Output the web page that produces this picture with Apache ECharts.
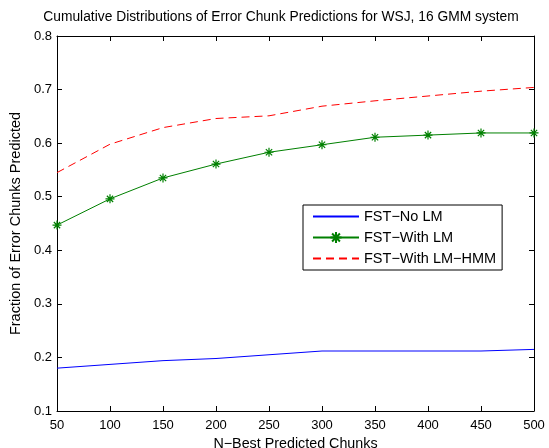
<!DOCTYPE html>
<html>
<head>
	<meta charset="UTF-8">
	<title></title>
	<style>
		body { margin: 0; background: #fff; }
		#chart { width: 549px; height: 448px; }
	</style>
	<script src="https://cdn.jsdelivr.net/npm/echarts@6/dist/echarts.min.js"></script>
</head>
<body>
	<div id="chart"></div>
	<script>
		var nBest = [50, 100, 150, 200, 250, 300, 350, 400, 450, 500];
		var noLM = [0.180, 0.187, 0.194, 0.198, 0.205, 0.212, 0.212, 0.212, 0.212, 0.215];
		var withLM = [0.447, 0.496, 0.535, 0.561, 0.583, 0.597, 0.611, 0.615, 0.619, 0.619];
		var withLMHMM = [0.545, 0.598, 0.629, 0.646, 0.651, 0.669, 0.679, 0.688, 0.697, 0.704];

		function pairs(ys) {
			return nBest.map(function (x, i) { return [x, ys[i]]; });
		}

		// matlab style '*' marker
		var star = 'path://M0,-5L0,5M-5,0L5,0M-3.5,-3.5L3.5,3.5M-3.5,3.5L3.5,-3.5';
		var font = 'Liberation Sans, Arial, sans-serif';

		var boxAxis = {
			min: 50, max: 500, interval: 50,
			axisLine: { lineStyle: { color: '#000' } },
			axisTick: { inside: true, length: 5, lineStyle: { color: '#000' } },
			splitLine: { show: false }
		};

		var myChart = echarts.init(document.getElementById('chart'));
		myChart.setOption({
			animation: false,
			backgroundColor: '#fff',
			title: {
				text: 'Cumulative Distributions of Error Chunk Predictions for WSJ, 16 GMM system',
				left: 276, top: 5, textAlign: 'center',
				textStyle: { fontFamily: font, fontSize: 13.8, fontWeight: 'normal', color: '#000' }
			},
			grid: { left: 57, right: 15, top: 36, bottom: 37, outerBoundsMode: 'none' },
			legend: {
				orient: 'vertical',
				left: 303, top: 205,
				padding: [4, 6, 4, 9],
				itemWidth: 46, itemHeight: 14, itemGap: 6,
				borderColor: '#000', borderWidth: 1, backgroundColor: '#fff',
				textStyle: { fontFamily: font, fontSize: 14.5, color: '#000' },
				data: [
					{ name: 'FST\u2212No LM', itemStyle: { opacity: 0 } },
					{ name: 'FST\u2212With LM' },
					{ name: 'FST\u2212With LM\u2212HMM', itemStyle: { opacity: 0 } }
				]
			},
			xAxis: [
				Object.assign({}, boxAxis, {
					type: 'value', position: 'bottom',
					name: 'N\u2212Best Predicted Chunks', nameLocation: 'middle', nameGap: 21,
					nameTextStyle: { fontFamily: font, fontSize: 14.3, color: '#000' },
					axisLabel: { fontFamily: font, fontSize: 13, color: '#000', margin: 8 }
				}),
				Object.assign({}, boxAxis, { type: 'value', position: 'top', axisLabel: { show: false } })
			],
			yAxis: [
				{
					type: 'value', min: 0.1, max: 0.8, interval: 0.1, position: 'left',
					name: 'Fraction of Error Chunks Predicted', nameLocation: 'middle', nameGap: 33,
					nameTextStyle: { fontFamily: font, fontSize: 14.5, color: '#000' },
					axisLine: { show: true, lineStyle: { color: '#000' } },
					axisTick: { show: true, inside: true, length: 5, lineStyle: { color: '#000' } },
					splitLine: { show: false },
					axisLabel: {
						fontFamily: font, fontSize: 13, color: '#000', margin: 5,
						formatter: function (v) { return v.toFixed(1); }
					}
				},
				{
					type: 'value', min: 0.1, max: 0.8, interval: 0.1, position: 'right',
					axisLine: { show: true, lineStyle: { color: '#000' } },
					axisTick: { show: true, inside: true, length: 5, lineStyle: { color: '#000' } },
					splitLine: { show: false },
					axisLabel: { show: false }
				}
			],
			series: [
				{
					name: 'FST\u2212No LM', type: 'line', data: pairs(noLM),
					symbol: 'none', lineStyle: { color: '#0000ff', width: 1 },
					itemStyle: { color: '#0000ff' }
				},
				{
					name: 'FST\u2212With LM', type: 'line', data: pairs(withLM),
					symbol: star, symbolSize: 9,
					lineStyle: { color: '#008000', width: 1 },
					itemStyle: { color: 'rgba(0,0,0,0)', borderColor: '#008000', borderWidth: 1.2 }
				},
				{
					name: 'FST\u2212With LM\u2212HMM', type: 'line', data: pairs(withLMHMM),
					symbol: 'none', lineStyle: { color: '#ff0000', width: 1, type: [8, 5] },
					itemStyle: { color: '#ff0000' }
				}
			]
		});
	</script>
</body>
</html>
